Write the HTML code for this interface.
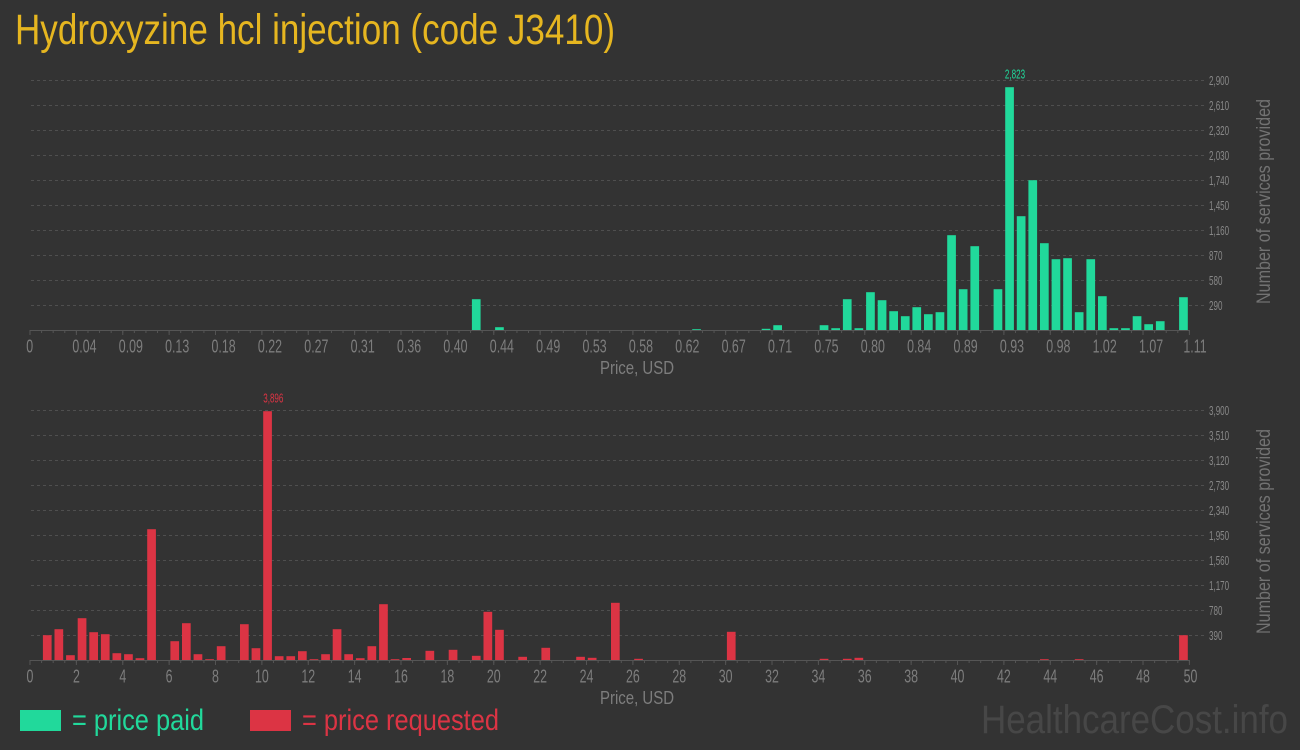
<!DOCTYPE html>
<html><head><meta charset="utf-8"><style>
html,body{margin:0;padding:0;background:#333333;}
svg{display:block;font-family:"Liberation Sans Narrow","Liberation Sans",sans-serif;}
</style></head><body>
<svg width="1300" height="750" viewBox="0 0 1300 750" xmlns="http://www.w3.org/2000/svg">
<rect width="1300" height="750" fill="#333333"/>
<text x="15" y="44" font-size="42.5" fill="#e6b620" textLength="600" lengthAdjust="spacingAndGlyphs">Hydroxyzine hcl injection (code J3410)</text>

<!-- TOP CHART -->
<g stroke="#4f4f4f" stroke-width="1" stroke-dasharray="3 3">
<line x1="31" y1="80.5" x2="1206" y2="80.5"/><line x1="31" y1="105.5" x2="1206" y2="105.5"/>
<line x1="31" y1="130.5" x2="1206" y2="130.5"/><line x1="31" y1="155.5" x2="1206" y2="155.5"/>
<line x1="31" y1="180.5" x2="1206" y2="180.5"/><line x1="31" y1="205.5" x2="1206" y2="205.5"/>
<line x1="31" y1="230.5" x2="1206" y2="230.5"/><line x1="31" y1="255.5" x2="1206" y2="255.5"/>
<line x1="31" y1="280.5" x2="1206" y2="280.5"/><line x1="31" y1="305.5" x2="1206" y2="305.5"/>
</g>
<g fill="#21d99b">
<rect x="471.9" y="299.2" width="8.7" height="31.3"/>
<rect x="495.1" y="327.2" width="8.7" height="3.3"/>
<rect x="692.2" y="329.2" width="8.7" height="1.3"/>
<rect x="761.7" y="328.8" width="8.7" height="1.7"/>
<rect x="773.3" y="325.2" width="8.7" height="5.3"/>
<rect x="819.7" y="325.2" width="8.7" height="5.3"/>
<rect x="831.3" y="328.2" width="8.7" height="2.3"/>
<rect x="842.9" y="299.2" width="8.7" height="31.3"/>
<rect x="854.5" y="328.2" width="8.7" height="2.3"/>
<rect x="866.1" y="292.2" width="8.7" height="38.3"/>
<rect x="877.7" y="300.2" width="8.7" height="30.3"/>
<rect x="889.3" y="311.2" width="8.7" height="19.3"/>
<rect x="900.9" y="316.2" width="8.7" height="14.3"/>
<rect x="912.4" y="307.2" width="8.7" height="23.3"/>
<rect x="924.0" y="314.2" width="8.7" height="16.3"/>
<rect x="935.6" y="312.2" width="8.7" height="18.3"/>
<rect x="947.2" y="235.2" width="8.7" height="95.3"/>
<rect x="958.8" y="289.2" width="8.7" height="41.3"/>
<rect x="970.4" y="246.2" width="8.7" height="84.3"/>
<rect x="993.6" y="289.2" width="8.7" height="41.3"/>
<rect x="1005.2" y="87.2" width="8.7" height="243.3"/>
<rect x="1016.8" y="216.2" width="8.7" height="114.3"/>
<rect x="1028.4" y="180.2" width="8.7" height="150.3"/>
<rect x="1040.0" y="243.2" width="8.7" height="87.3"/>
<rect x="1051.6" y="259.2" width="8.7" height="71.3"/>
<rect x="1063.2" y="258.2" width="8.7" height="72.3"/>
<rect x="1074.8" y="312.2" width="8.7" height="18.3"/>
<rect x="1086.4" y="259.2" width="8.7" height="71.3"/>
<rect x="1098.0" y="296.2" width="8.7" height="34.3"/>
<rect x="1109.5" y="328.2" width="8.7" height="2.3"/>
<rect x="1121.1" y="328.2" width="8.7" height="2.3"/>
<rect x="1132.7" y="316.2" width="8.7" height="14.3"/>
<rect x="1144.3" y="324.2" width="8.7" height="6.3"/>
<rect x="1155.9" y="321.2" width="8.7" height="9.3"/>
<rect x="1179.1" y="297.2" width="8.7" height="33.3"/>
</g>
<line x1="29.5" y1="330.5" x2="1190" y2="330.5" stroke="#555" stroke-width="1"/>
<line x1="29.5" y1="332" x2="1191" y2="332" stroke="#555" stroke-width="2" stroke-dasharray="1 10.594"/>
<line x1="29.5" y1="333" x2="1191" y2="333" stroke="#555" stroke-width="4" stroke-dasharray="1 45.376"/>
<g font-size="18.5" fill="#7d7d7d">
<text transform="translate(29.7,352.7) scale(0.67,1)" text-anchor="middle">0</text>
<text transform="translate(72.4,352.7) scale(0.67,1)">0.04</text>
<text transform="translate(118.8,352.7) scale(0.67,1)">0.09</text>
<text transform="translate(165.1,352.7) scale(0.67,1)">0.13</text>
<text transform="translate(211.5,352.7) scale(0.67,1)">0.18</text>
<text transform="translate(257.9,352.7) scale(0.67,1)">0.22</text>
<text transform="translate(304.3,352.7) scale(0.67,1)">0.27</text>
<text transform="translate(350.6,352.7) scale(0.67,1)">0.31</text>
<text transform="translate(397.0,352.7) scale(0.67,1)">0.36</text>
<text transform="translate(443.4,352.7) scale(0.67,1)">0.40</text>
<text transform="translate(489.8,352.7) scale(0.67,1)">0.44</text>
<text transform="translate(536.1,352.7) scale(0.67,1)">0.49</text>
<text transform="translate(582.5,352.7) scale(0.67,1)">0.53</text>
<text transform="translate(628.9,352.7) scale(0.67,1)">0.58</text>
<text transform="translate(675.3,352.7) scale(0.67,1)">0.62</text>
<text transform="translate(721.6,352.7) scale(0.67,1)">0.67</text>
<text transform="translate(768.0,352.7) scale(0.67,1)">0.71</text>
<text transform="translate(814.4,352.7) scale(0.67,1)">0.75</text>
<text transform="translate(860.8,352.7) scale(0.67,1)">0.80</text>
<text transform="translate(907.1,352.7) scale(0.67,1)">0.84</text>
<text transform="translate(953.5,352.7) scale(0.67,1)">0.89</text>
<text transform="translate(999.9,352.7) scale(0.67,1)">0.93</text>
<text transform="translate(1046.3,352.7) scale(0.67,1)">0.98</text>
<text transform="translate(1092.6,352.7) scale(0.67,1)">1.02</text>
<text transform="translate(1139.0,352.7) scale(0.67,1)">1.07</text>
<text transform="translate(1183.4,352.7) scale(0.67,1)">1.11</text>
</g>
<g font-size="13" fill="#888">
<text transform="translate(1209,85) scale(0.62,1)">2,900</text>
<text transform="translate(1209,110) scale(0.62,1)">2,610</text>
<text transform="translate(1209,135) scale(0.62,1)">2,320</text>
<text transform="translate(1209,160) scale(0.62,1)">2,030</text>
<text transform="translate(1209,185) scale(0.62,1)">1,740</text>
<text transform="translate(1209,210) scale(0.62,1)">1,450</text>
<text transform="translate(1209,235) scale(0.62,1)">1,160</text>
<text transform="translate(1209,260) scale(0.62,1)">870</text>
<text transform="translate(1209,285) scale(0.62,1)">580</text>
<text transform="translate(1209,310) scale(0.62,1)">290</text>
</g>
<text transform="translate(1015,78.3) scale(0.62,1)" font-size="13" fill="#21d99b" text-anchor="middle">2,823</text>
<text x="600" y="374" font-size="18" fill="#7d7d7d" textLength="74" lengthAdjust="spacingAndGlyphs">Price, USD</text>
<text transform="translate(1270,304) rotate(-90)" font-size="19.5" fill="#727272" textLength="205" lengthAdjust="spacingAndGlyphs">Number of services provided</text>

<!-- BOTTOM CHART -->
<g stroke="#4f4f4f" stroke-width="1" stroke-dasharray="3 3">
<line x1="31" y1="410.5" x2="1206" y2="410.5"/><line x1="31" y1="435.5" x2="1206" y2="435.5"/>
<line x1="31" y1="460.5" x2="1206" y2="460.5"/><line x1="31" y1="485.5" x2="1206" y2="485.5"/>
<line x1="31" y1="510.5" x2="1206" y2="510.5"/><line x1="31" y1="535.5" x2="1206" y2="535.5"/>
<line x1="31" y1="560.5" x2="1206" y2="560.5"/><line x1="31" y1="585.5" x2="1206" y2="585.5"/>
<line x1="31" y1="610.5" x2="1206" y2="610.5"/><line x1="31" y1="635.5" x2="1206" y2="635.5"/>
</g>
<g fill="#dc3444">
<rect x="42.9" y="635.2" width="8.7" height="25.3"/>
<rect x="54.5" y="629.2" width="8.7" height="31.3"/>
<rect x="66.1" y="655.2" width="8.7" height="5.3"/>
<rect x="77.7" y="618.2" width="8.7" height="42.3"/>
<rect x="89.3" y="632.2" width="8.7" height="28.3"/>
<rect x="100.9" y="634.2" width="8.7" height="26.3"/>
<rect x="112.5" y="653.2" width="8.7" height="7.3"/>
<rect x="124.1" y="654.2" width="8.7" height="6.3"/>
<rect x="135.6" y="658.2" width="8.7" height="2.3"/>
<rect x="147.2" y="529.2" width="8.7" height="131.3"/>
<rect x="170.4" y="641.2" width="8.7" height="19.3"/>
<rect x="182.0" y="623.2" width="8.7" height="37.3"/>
<rect x="193.6" y="654.2" width="8.7" height="6.3"/>
<rect x="205.2" y="659.2" width="8.7" height="1.3"/>
<rect x="216.8" y="646.2" width="8.7" height="14.3"/>
<rect x="240.0" y="624.2" width="8.7" height="36.3"/>
<rect x="251.6" y="648.2" width="8.7" height="12.3"/>
<rect x="263.2" y="411.2" width="8.7" height="249.3"/>
<rect x="274.8" y="656.2" width="8.7" height="4.3"/>
<rect x="286.4" y="656.2" width="8.7" height="4.3"/>
<rect x="298.0" y="651.2" width="8.7" height="9.3"/>
<rect x="309.6" y="659.2" width="8.7" height="1.3"/>
<rect x="321.2" y="654.2" width="8.7" height="6.3"/>
<rect x="332.7" y="629.2" width="8.7" height="31.3"/>
<rect x="344.3" y="654.2" width="8.7" height="6.3"/>
<rect x="355.9" y="658.2" width="8.7" height="2.3"/>
<rect x="367.5" y="646.2" width="8.7" height="14.3"/>
<rect x="379.1" y="604.2" width="8.7" height="56.3"/>
<rect x="390.7" y="659.2" width="8.7" height="1.3"/>
<rect x="402.3" y="658.0" width="8.7" height="2.5"/>
<rect x="425.5" y="650.8" width="8.7" height="9.7"/>
<rect x="448.7" y="649.8" width="8.7" height="10.7"/>
<rect x="471.9" y="655.8" width="8.7" height="4.7"/>
<rect x="483.5" y="611.8" width="8.7" height="48.7"/>
<rect x="495.1" y="629.8" width="8.7" height="30.7"/>
<rect x="518.3" y="656.8" width="8.7" height="3.7"/>
<rect x="541.4" y="647.8" width="8.7" height="12.7"/>
<rect x="576.2" y="656.8" width="8.7" height="3.7"/>
<rect x="587.8" y="657.8" width="8.7" height="2.7"/>
<rect x="611.0" y="602.8" width="8.7" height="57.7"/>
<rect x="634.2" y="658.8" width="8.7" height="1.7"/>
<rect x="726.9" y="631.8" width="8.7" height="28.7"/>
<rect x="819.7" y="658.8" width="8.7" height="1.7"/>
<rect x="842.9" y="658.8" width="8.7" height="1.7"/>
<rect x="854.5" y="657.8" width="8.7" height="2.7"/>
<rect x="1040.0" y="659.2" width="8.7" height="1.3"/>
<rect x="1074.8" y="659.2" width="8.7" height="1.3"/>
<rect x="1179.1" y="635.2" width="8.7" height="25.3"/>
</g>
<line x1="29.5" y1="660.5" x2="1190" y2="660.5" stroke="#555" stroke-width="1"/>
<line x1="29.5" y1="662" x2="1191" y2="662" stroke="#555" stroke-width="2" stroke-dasharray="1 10.594"/>
<line x1="29.5" y1="663" x2="1191" y2="663" stroke="#555" stroke-width="4" stroke-dasharray="1 45.376"/>
<g font-size="18.5" fill="#7d7d7d" text-anchor="middle">
<text transform="translate(30,682.3) scale(0.67,1)">0</text>
<text transform="translate(76.4,682.3) scale(0.67,1)">2</text>
<text transform="translate(122.8,682.3) scale(0.67,1)">4</text>
<text transform="translate(169.1,682.3) scale(0.67,1)">6</text>
<text transform="translate(215.5,682.3) scale(0.67,1)">8</text>
<text transform="translate(261.9,682.3) scale(0.67,1)">10</text>
<text transform="translate(308.3,682.3) scale(0.67,1)">12</text>
<text transform="translate(354.6,682.3) scale(0.67,1)">14</text>
<text transform="translate(401.0,682.3) scale(0.67,1)">16</text>
<text transform="translate(447.4,682.3) scale(0.67,1)">18</text>
<text transform="translate(493.8,682.3) scale(0.67,1)">20</text>
<text transform="translate(540.1,682.3) scale(0.67,1)">22</text>
<text transform="translate(586.5,682.3) scale(0.67,1)">24</text>
<text transform="translate(632.9,682.3) scale(0.67,1)">26</text>
<text transform="translate(679.3,682.3) scale(0.67,1)">28</text>
<text transform="translate(725.6,682.3) scale(0.67,1)">30</text>
<text transform="translate(772.0,682.3) scale(0.67,1)">32</text>
<text transform="translate(818.4,682.3) scale(0.67,1)">34</text>
<text transform="translate(864.8,682.3) scale(0.67,1)">36</text>
<text transform="translate(911.1,682.3) scale(0.67,1)">38</text>
<text transform="translate(957.5,682.3) scale(0.67,1)">40</text>
<text transform="translate(1003.9,682.3) scale(0.67,1)">42</text>
<text transform="translate(1050.3,682.3) scale(0.67,1)">44</text>
<text transform="translate(1096.6,682.3) scale(0.67,1)">46</text>
<text transform="translate(1143.0,682.3) scale(0.67,1)">48</text>
<text transform="translate(1190.5,682.3) scale(0.67,1)">50</text>
</g>
<g font-size="13" fill="#888">
<text transform="translate(1209,415) scale(0.62,1)">3,900</text>
<text transform="translate(1209,440) scale(0.62,1)">3,510</text>
<text transform="translate(1209,465) scale(0.62,1)">3,120</text>
<text transform="translate(1209,490) scale(0.62,1)">2,730</text>
<text transform="translate(1209,515) scale(0.62,1)">2,340</text>
<text transform="translate(1209,540) scale(0.62,1)">1,950</text>
<text transform="translate(1209,565) scale(0.62,1)">1,560</text>
<text transform="translate(1209,590) scale(0.62,1)">1,170</text>
<text transform="translate(1209,615) scale(0.62,1)">780</text>
<text transform="translate(1209,640) scale(0.62,1)">390</text>
</g>
<text transform="translate(273.3,402.3) scale(0.62,1)" font-size="13" fill="#dc3444" text-anchor="middle">3,896</text>
<text x="600" y="704" font-size="18" fill="#7d7d7d" textLength="74" lengthAdjust="spacingAndGlyphs">Price, USD</text>
<text transform="translate(1270,634) rotate(-90)" font-size="19.5" fill="#727272" textLength="205" lengthAdjust="spacingAndGlyphs">Number of services provided</text>

<!-- LEGEND -->
<rect x="20" y="710" width="41" height="21" fill="#21d99b"/>
<text x="72" y="730" font-size="30" fill="#21d99b" textLength="132" lengthAdjust="spacingAndGlyphs">= price paid</text>
<rect x="250" y="710" width="41" height="21" fill="#dc3444"/>
<text x="302" y="730" font-size="30" fill="#dc3444" textLength="197" lengthAdjust="spacingAndGlyphs">= price requested</text>
<text x="981" y="733" font-size="40" fill="#474747" textLength="307" lengthAdjust="spacingAndGlyphs">HealthcareCost.info</text>
</svg>
</body></html>
